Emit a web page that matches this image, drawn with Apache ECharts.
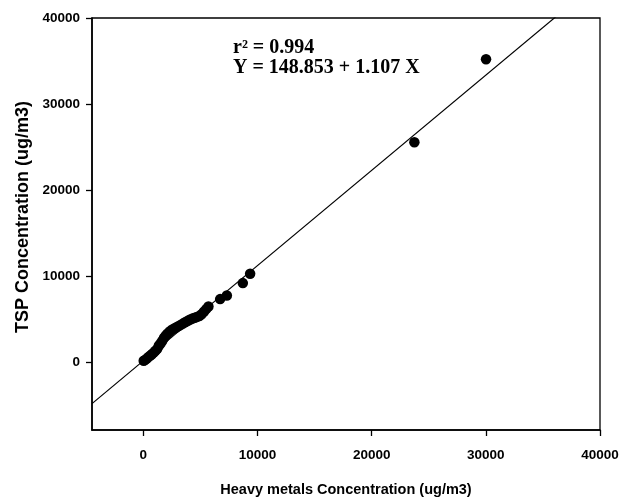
<!DOCTYPE html>
<html>
<head>
<meta charset="utf-8">
<script src="https://cdn.jsdelivr.net/npm/echarts@6/dist/echarts.min.js"></script>
<style>
html,body{margin:0;padding:0;background:#fff;}
#chart{width:619px;height:499px;}
</style>
</head>
<body>
<div id="chart"></div>
<script>
var heavyMetals = [30, 150, 300, 450, 600, 750, 900, 1050, 1200, 1350, 1500, 1650, 1800, 1950, 2100, 2300, 2500, 2700, 2900, 3100, 3300, 3500, 3700, 3900, 4100, 4300, 4500, 4700, 4900, 5100, 5300, 5500, 5700, 6725, 7312, 8713, 9352, 23740, 30017];
var tsp = [150, 250, 400, 600, 750, 900, 1100, 1300, 1500, 1900, 2150, 2450, 2800, 3050, 3300, 3550, 3750, 3900, 4050, 4200, 4350, 4500, 4650, 4800, 4950, 5050, 5150, 5250, 5350, 5550, 5850, 6150, 6450, 7319, 7737, 9177, 10258, 25557, 35200];
var xTicks = [0, 10000, 20000, 30000, 40000];
var yTicks = [0, 10000, 20000, 30000, 40000];
var intercept = 148.853;
var slope = 1.107;
var xMin = -4500, xMax = 40000, yMin = -7900, yMax = 40000;

var pts = heavyMetals.map(function (x, i) { return [x, tsp[i]]; });
var fitLine = [[xMin, intercept + slope * xMin], [xMax, intercept + slope * xMax]];

var chart = echarts.init(document.getElementById('chart'));
var sans = '"Liberation Sans", Arial, sans-serif';
var labelFont = {color: '#000', fontFamily: sans, fontWeight: 'bold', fontSize: 13.5, formatter: function (v) { return String(v); }};
chart.setOption({
  animation: false,
  grid: {left: 92, right: 19, top: 18, bottom: 69, show: true, borderColor: '#000', borderWidth: 1.3, backgroundColor: 'transparent', outerBoundsMode: 'none', containLabel: false},
  xAxis: {
    type: 'value', min: xMin, max: xMax,
    name: 'Heavy metals Concentration (ug/m3)', nameLocation: 'middle', nameGap: 52,
    nameTextStyle: {color: '#000', fontFamily: sans, fontWeight: 'bold', fontSize: 14.5},
    axisLine: {show: true, onZero: false, lineStyle: {color: '#000', width: 1.6}},
    axisTick: {show: true, length: 6, inside: false, customValues: xTicks, lineStyle: {color: '#000', width: 1.3}},
    axisLabel: Object.assign({margin: 18, customValues: xTicks}, labelFont),
    splitLine: {show: false}
  },
  yAxis: {
    type: 'value', min: yMin, max: yMax,
    name: 'TSP Concentration (ug/m3)', nameLocation: 'middle', nameGap: 60,
    nameTextStyle: {color: '#000', fontFamily: sans, fontWeight: 'bold', fontSize: 18, padding: [0, 0, 0, 14]},
    axisLine: {show: true, onZero: false, lineStyle: {color: '#000', width: 1.6}},
    axisTick: {show: true, length: 6, inside: false, customValues: yTicks, lineStyle: {color: '#000', width: 1.3}},
    axisLabel: Object.assign({margin: 12, customValues: yTicks}, labelFont),
    splitLine: {show: false}
  },
  series: [
    {type: 'line', data: fitLine, symbol: 'none', clip: true, lineStyle: {color: '#000', width: 1.2}, z: 2},
    {type: 'scatter', data: pts, symbol: 'circle', symbolSize: 10.5, itemStyle: {color: '#000', opacity: 1}, z: 3}
  ],
  graphic: [
    {type: 'text', left: 233, top: 38, style: {text: 'r\u00B2 = 0.994', font: 'bold 20px "Liberation Serif", "Times New Roman", serif', fill: '#000'}},
    {type: 'text', left: 233, top: 58, style: {text: 'Y = 148.853 + 1.107 X', font: 'bold 20px "Liberation Serif", "Times New Roman", serif', fill: '#000'}}
  ]
});
</script>
</body>
</html>
